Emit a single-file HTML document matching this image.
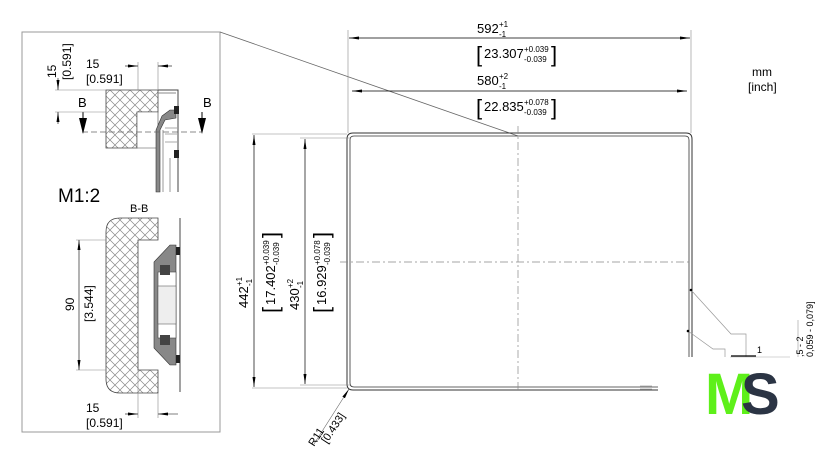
<!DOCTYPE html>
<html><head><meta charset="utf-8"><style>
html,body{margin:0;padding:0;background:#fff;}
svg{display:block;font-family:"Liberation Sans",sans-serif;}
</style></head><body>
<svg width="840" height="468" viewBox="0 0 840 468" xmlns="http://www.w3.org/2000/svg">
<defs>
<pattern id="h" width="10" height="10" patternUnits="userSpaceOnUse">
<path d="M0 0L10 10M10 0L0 10" stroke="#888" stroke-width="0.7"/>
</pattern>
<marker id="a" viewBox="0 0 10 6" refX="10" refY="3" markerWidth="10" markerHeight="6" orient="auto-start-reverse" markerUnits="userSpaceOnUse">
<path d="M0 1.5L10 3L0 4.5z" fill="#000"/></marker>
</defs>

<rect x="22" y="32" width="198" height="400" fill="none" stroke="#999" stroke-width="1"/>
<line x1="220" y1="32" x2="518" y2="136" stroke="#666" stroke-width="0.8"/>

<!-- top detail -->
<path d="M106 90H158V112H137V148H106Z" fill="url(#h)" stroke="#444" stroke-width="0.8"/>
<path d="M137 112H158V148H137Z" fill="#fff" stroke="#444" stroke-width="0.6"/>
<path d="M158 90H178V192" fill="none" stroke="#444" stroke-width="1"/>
<path d="M158 93H176" fill="none" stroke="#888" stroke-width="1"/>
<path d="M176 110H170L162 116L156 130V192H160V130L165 120L176 118Z" fill="#888" stroke="#333" stroke-width="0.6"/>
<line x1="163" y1="130" x2="163" y2="192" stroke="#555" stroke-width="0.6"/>
<line x1="170" y1="158" x2="170" y2="192" stroke="#555" stroke-width="0.6"/>
<rect x="174" y="106" width="5" height="8" fill="#222"/>
<rect x="174" y="150" width="5" height="8" fill="#222"/>
<path d="M165 128H177M165 134H177M165 142H177" stroke="#555" stroke-width="0.6"/>
<line x1="82" y1="132" x2="202" y2="132" stroke="#666" stroke-dasharray="6,3" stroke-width="0.8"/>
<line x1="83" y1="112" x2="83" y2="120" stroke="#000"/>
<path d="M79 118L87 118L83 134Z" fill="#000"/>
<line x1="202" y1="112" x2="202" y2="120" stroke="#000"/>
<path d="M198 118L206 118L202 134Z" fill="#000"/>
<text x="78" y="107" font-size="13">B</text>
<text x="203" y="107" font-size="13">B</text>
<line x1="138" y1="62" x2="138" y2="90" stroke="#888" stroke-width="0.6"/>
<line x1="158" y1="62" x2="158" y2="90" stroke="#888" stroke-width="0.6"/>
<line x1="125" y1="66" x2="138" y2="66" stroke="#000" stroke-width="0.6" marker-end="url(#a)"/>
<line x1="172" y1="66" x2="158" y2="66" stroke="#000" stroke-width="0.6" marker-end="url(#a)"/>
<text x="86" y="68" font-size="12">15</text>
<text x="86" y="83" font-size="12">[0.591]</text>
<line x1="55" y1="90" x2="106" y2="90" stroke="#888" stroke-width="0.6"/>
<line x1="55" y1="112" x2="106" y2="112" stroke="#888" stroke-width="0.6"/>
<line x1="58" y1="78" x2="58" y2="90" stroke="#000" stroke-width="0.6" marker-end="url(#a)"/>
<line x1="58" y1="124" x2="58" y2="112" stroke="#000" stroke-width="0.6" marker-end="url(#a)"/>
<text transform="translate(56,78) rotate(-90)" font-size="12">15</text>
<text transform="translate(71,80) rotate(-90)" font-size="12">[0.591]</text>

<text x="58" y="202" font-size="19">M1:2</text>
<text x="130" y="212" font-size="11">B-B</text>

<!-- B-B section -->
<path d="M120 218H158V240H138V370H158V393H120Q106 393 106 379V232Q106 218 120 218Z" fill="url(#h)" stroke="#444" stroke-width="0.8"/>
<line x1="180" y1="218" x2="180" y2="392" stroke="#444" stroke-width="1"/>
<path d="M176 245H170L154 262V348L170 365H176Z" fill="#888" stroke="#333" stroke-width="0.6"/>
<rect x="158" y="272" width="18" height="66" fill="#fff" stroke="#444" stroke-width="0.6"/>
<rect x="158" y="286" width="18" height="38" fill="#eee" stroke="#444" stroke-width="0.5"/>
<rect x="160" y="265" width="10" height="10" fill="#444"/>
<rect x="160" y="335" width="10" height="10" fill="#444"/>
<rect x="176" y="247" width="4" height="8" fill="#222"/>
<rect x="176" y="355" width="4" height="8" fill="#222"/>
<line x1="76" y1="240" x2="106" y2="240" stroke="#888" stroke-width="0.6"/>
<line x1="76" y1="370" x2="106" y2="370" stroke="#888" stroke-width="0.6"/>
<line x1="79" y1="305" x2="79" y2="240" stroke="#000" stroke-width="0.6" marker-end="url(#a)"/>
<line x1="79" y1="305" x2="79" y2="370" stroke="#000" stroke-width="0.6" marker-end="url(#a)"/>
<text transform="translate(74,311) rotate(-90)" font-size="12">90</text>
<text transform="translate(93,322) rotate(-90)" font-size="12">[3.544]</text>
<line x1="138" y1="370" x2="138" y2="418" stroke="#888" stroke-width="0.6"/>
<line x1="158" y1="393" x2="158" y2="418" stroke="#888" stroke-width="0.6"/>
<line x1="125" y1="414" x2="138" y2="414" stroke="#000" stroke-width="0.6" marker-end="url(#a)"/>
<line x1="178" y1="414" x2="158" y2="414" stroke="#000" stroke-width="0.6" marker-end="url(#a)"/>
<text x="86" y="412" font-size="12">15</text>
<text x="86" y="427" font-size="12">[0.591]</text>

<!-- main outline -->
<path d="M692 357V139Q692 133 686 133H353Q347 133 347 139V384Q347 390 353 390H658" fill="none" stroke="#333" stroke-width="1"/>
<path d="M689 357V140Q689 136 685 136H354Q350 136 350 140V383Q350 387 354 387H658" fill="none" stroke="#333" stroke-width="0.8"/>
<line x1="518" y1="126" x2="518" y2="392" stroke="#888" stroke-width="0.7" stroke-dasharray="8,3,2,3"/>
<line x1="340" y1="262" x2="690" y2="262" stroke="#888" stroke-width="0.7" stroke-dasharray="8,3,2,3"/>

<line x1="348" y1="30" x2="348" y2="133" stroke="#888" stroke-width="0.6"/>
<line x1="691" y1="30" x2="691" y2="133" stroke="#888" stroke-width="0.6"/>
<line x1="520" y1="38" x2="349" y2="38" stroke="#000" stroke-width="0.7" marker-end="url(#a)"/>
<line x1="520" y1="38" x2="690" y2="38" stroke="#000" stroke-width="0.7" marker-end="url(#a)"/>
<line x1="520" y1="91" x2="352" y2="91" stroke="#000" stroke-width="0.7" marker-end="url(#a)"/>
<line x1="520" y1="91" x2="687" y2="91" stroke="#000" stroke-width="0.7" marker-end="url(#a)"/>

<g font-size="13">
<text x="477" y="33">592</text><text x="499" y="27" font-size="8">+1</text><text x="499" y="37" font-size="8">-1</text>
<text x="476" y="62" font-size="22">[</text><text x="484" y="58">23.307</text><text x="524" y="52" font-size="8">+0.039</text><text x="524" y="62" font-size="8">-0.039</text><text x="551" y="62" font-size="22">]</text>
<text x="477" y="85">580</text><text x="499" y="79" font-size="8">+2</text><text x="499" y="89" font-size="8">-1</text>
<text x="476" y="115" font-size="22">[</text><text x="484" y="111">22.835</text><text x="524" y="105" font-size="8">+0.078</text><text x="524" y="115" font-size="8">-0.039</text><text x="551" y="115" font-size="22">]</text>
</g>
<text x="752" y="76" font-size="12">mm</text>
<text x="748" y="91" font-size="12">[inch]</text>

<line x1="252" y1="134" x2="347" y2="134" stroke="#888" stroke-width="0.6"/>
<line x1="252" y1="388" x2="347" y2="388" stroke="#888" stroke-width="0.6"/>
<line x1="300" y1="138" x2="350" y2="138" stroke="#888" stroke-width="0.6"/>
<line x1="300" y1="385" x2="350" y2="385" stroke="#888" stroke-width="0.6"/>
<line x1="254" y1="260" x2="254" y2="135" stroke="#000" stroke-width="0.7" marker-end="url(#a)"/>
<line x1="254" y1="260" x2="254" y2="387" stroke="#000" stroke-width="0.7" marker-end="url(#a)"/>
<line x1="305" y1="260" x2="305" y2="139" stroke="#000" stroke-width="0.7" marker-end="url(#a)"/>
<line x1="305" y1="260" x2="305" y2="384" stroke="#000" stroke-width="0.7" marker-end="url(#a)"/>

<g transform="translate(248,308) rotate(-90)" font-size="13">
<text x="0" y="0">442</text><text x="22" y="-6" font-size="8">+1</text><text x="22" y="4" font-size="8">-1</text></g>
<g transform="translate(299,310) rotate(-90)" font-size="13">
<text x="0" y="0">430</text><text x="22" y="-6" font-size="8">+2</text><text x="22" y="4" font-size="8">-1</text></g>
<g transform="translate(275,305) rotate(-90)" font-size="13">
<text x="-8" y="3" font-size="22">[</text><text x="0" y="0">17.402</text><text x="40" y="-6" font-size="8">+0.039</text><text x="40" y="4" font-size="8">-0.039</text><text x="67" y="3" font-size="22">]</text></g>
<g transform="translate(326,305) rotate(-90)" font-size="13">
<text x="-8" y="3" font-size="22">[</text><text x="0" y="0">16.929</text><text x="40" y="-6" font-size="8">+0.078</text><text x="40" y="4" font-size="8">-0.039</text><text x="67" y="3" font-size="22">]</text></g>

<line x1="314" y1="444" x2="349" y2="389" stroke="#666" stroke-width="0.6" marker-end="url(#a)"/>
<text transform="translate(314,447) rotate(-57)" font-size="11">R11</text>
<text transform="translate(327,444) rotate(-57)" font-size="11">[0.433]</text>

<path d="M691 290L731 334H746V357" fill="none" stroke="#999" stroke-width="0.7"/>
<path d="M688 331L713 349H725V357" fill="none" stroke="#999" stroke-width="0.7"/>
<circle cx="691" cy="290" r="1.3" fill="#000"/>
<circle cx="688" cy="331" r="1.3" fill="#000"/>
<line x1="730" y1="357" x2="790" y2="357" stroke="#aaa" stroke-width="0.6"/>
<line x1="731" y1="356" x2="756" y2="356" stroke="#000" stroke-width="1.2"/>
<text x="757" y="353" font-size="9">1</text>
<line x1="798" y1="320" x2="798" y2="357" stroke="#999" stroke-width="0.6"/>
<text transform="translate(803,357) rotate(-90)" font-size="9">,5 - 2</text>
<text transform="translate(813,357) rotate(-90)" font-size="9">0,059 - 0,079]</text>
<line x1="640" y1="386" x2="652" y2="386" stroke="#888" stroke-width="0.6"/>
<line x1="640" y1="389" x2="652" y2="389" stroke="#888" stroke-width="0.6"/>

<text x="705" y="414" font-size="58" font-weight="bold" fill="#5ef01a" style="letter-spacing:-2px">M</text>
<text x="741" y="414" font-size="58" font-weight="bold" fill="#2b3444">S</text>
</svg>
</body></html>
